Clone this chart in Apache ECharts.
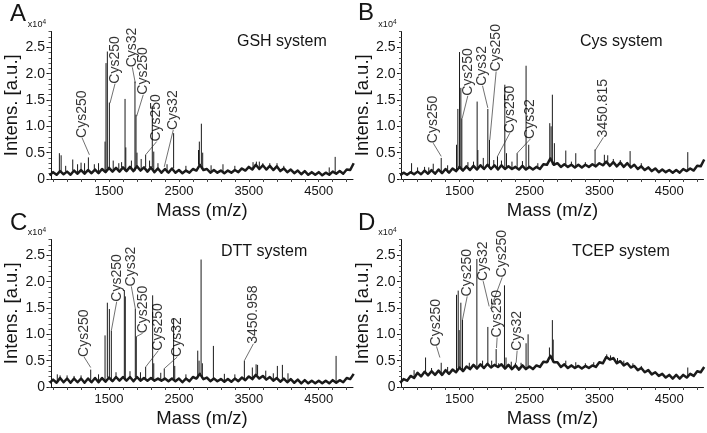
<!DOCTYPE html>
<html><head><meta charset="utf-8">
<script src="https://cdn.jsdelivr.net/npm/echarts@6/dist/echarts.min.js"></script>
<style>html,body{margin:0;padding:0;background:#fff}#c{width:707px;height:433px}</style>
</head><body><div id="c"></div>
<script>
// ---------- data (intensities in units of 1e4) ----------
const baseMasses = [650,700,750,800,850,900,950,1000,1050,1100,1150,1200,1250,1300,1350,1400,1450,1500,1550,1600,1650,1700,1750,1800,1850,1900,1950,2000,2050,2100,2150,2200,2250,2300,2350,2400,2450,2500,2550,2600,2650,2700,2750,2800,2850,2900,2950,3000,3050,3100,3150,3200,3250,3300,3350,3400,3450,3500,3550,3600,3650,3700,3750,3800,3850,3900,3950,4000,4050,4100,4150,4200,4250,4300,4350,4400,4450,4500,4550,4600,4650,4700,4750,4800,4850,4900,4950,5000];

const baseA = [0.07,0.13,0.08,0.15,0.09,0.14,0.08,0.16,0.10,0.17,0.10,0.17,0.11,0.18,0.11,0.19,0.13,0.21,0.14,0.21,0.14,0.22,0.15,0.23,0.15,0.24,0.16,0.22,0.14,0.22,0.13,0.20,0.12,0.19,0.12,0.20,0.12,0.17,0.11,0.16,0.12,0.19,0.16,0.27,0.17,0.19,0.12,0.17,0.12,0.16,0.11,0.16,0.12,0.17,0.13,0.20,0.16,0.23,0.18,0.27,0.19,0.26,0.18,0.25,0.17,0.24,0.15,0.20,0.13,0.18,0.11,0.16,0.09,0.15,0.08,0.13,0.08,0.13,0.07,0.12,0.08,0.14,0.10,0.15,0.10,0.18,0.17,0.30];
const baseB = [0.07,0.12,0.08,0.13,0.09,0.14,0.09,0.16,0.10,0.17,0.10,0.18,0.11,0.19,0.12,0.20,0.15,0.23,0.16,0.24,0.17,0.25,0.18,0.26,0.19,0.27,0.19,0.26,0.18,0.26,0.19,0.24,0.19,0.23,0.18,0.25,0.18,0.23,0.18,0.23,0.19,0.28,0.27,0.39,0.27,0.30,0.23,0.28,0.23,0.27,0.22,0.27,0.22,0.27,0.23,0.28,0.24,0.30,0.26,0.33,0.25,0.32,0.24,0.31,0.23,0.30,0.22,0.27,0.19,0.24,0.17,0.22,0.15,0.20,0.13,0.18,0.13,0.17,0.12,0.17,0.12,0.19,0.15,0.20,0.16,0.25,0.24,0.37];
const baseC = [0.08,0.14,0.08,0.17,0.09,0.16,0.08,0.16,0.09,0.16,0.08,0.16,0.09,0.17,0.09,0.17,0.10,0.18,0.11,0.19,0.12,0.19,0.12,0.19,0.11,0.19,0.12,0.17,0.12,0.17,0.12,0.16,0.12,0.16,0.11,0.16,0.11,0.16,0.09,0.16,0.11,0.19,0.16,0.25,0.15,0.18,0.11,0.16,0.11,0.15,0.10,0.15,0.10,0.16,0.11,0.18,0.13,0.20,0.15,0.23,0.16,0.21,0.14,0.19,0.12,0.17,0.10,0.16,0.09,0.15,0.08,0.14,0.07,0.13,0.07,0.12,0.07,0.12,0.07,0.12,0.07,0.13,0.08,0.13,0.09,0.17,0.15,0.25];
const baseD = [0.08,0.15,0.12,0.21,0.17,0.27,0.20,0.29,0.22,0.30,0.23,0.31,0.23,0.32,0.25,0.33,0.28,0.37,0.30,0.39,0.34,0.42,0.35,0.43,0.36,0.44,0.37,0.42,0.38,0.43,0.35,0.42,0.34,0.41,0.33,0.41,0.34,0.39,0.34,0.41,0.38,0.48,0.47,0.59,0.47,0.47,0.38,0.43,0.36,0.41,0.36,0.40,0.35,0.40,0.36,0.41,0.38,0.47,0.45,0.57,0.52,0.55,0.45,0.49,0.41,0.45,0.37,0.40,0.32,0.36,0.28,0.32,0.24,0.28,0.21,0.25,0.18,0.23,0.16,0.23,0.16,0.23,0.18,0.25,0.21,0.30,0.28,0.38];

const peaksA = [[790,0.49],[815,0.45],[880,0.25],[981,0.37],[1050,0.28],[1100,0.31],[1150,0.30],[1205,0.41],[1290,0.28],[1350,0.30],[1443,0.71],[1457,2.20],[1476,2.42],[1505,1.45],[1560,0.35],[1640,0.30],[1680,0.32],[1729,1.52],[1740,0.60],[1820,0.35],[1871,1.85],[1886,1.22],[1900,0.50],[1960,0.38],[2024,0.46],[2080,0.35],[2119,1.39],[2140,0.52],[2200,0.30],[2330,0.28],[2424,0.87],[2600,0.25],[2780,0.55],[2792,0.71],[2821,1.05],[2840,0.50],[2960,0.26],[3130,0.28],[3300,0.25],[3560,0.32],[3608,0.33],[3650,0.33],[3700,0.30],[3800,0.30],[3903,0.30],[4000,0.25],[4650,0.22],[4735,0.42]];
const peaksB = [[814,0.30],[900,0.22],[1000,0.23],[1060,0.22],[1124,0.29],[1238,0.40],[1330,0.26],[1457,0.65],[1476,1.33],[1500,2.41],[1519,1.73],[1533,1.15],[1620,0.32],[1700,0.33],[1752,1.47],[1762,0.55],[1840,0.40],[1905,1.33],[1929,0.74],[1990,0.36],[2043,0.43],[2100,0.35],[2148,1.79],[2172,0.49],[2250,0.33],[2324,0.49],[2400,0.34],[2452,2.15],[2490,0.65],[2620,0.30],[2791,1.06],[2810,1.00],[2828,1.60],[2857,0.68],[3020,0.54],[3100,0.33],[3163,0.49],[3300,0.32],[3439,0.56],[3572,0.46],[3620,0.45],[3700,0.38],[3800,0.36],[3940,0.53],[4100,0.30],[4765,0.51]];
const peaksC = [[760,0.24],[800,0.22],[900,0.22],[1000,0.21],[1100,0.22],[1238,0.33],[1350,0.24],[1443,0.98],[1476,1.60],[1505,1.48],[1533,1.07],[1600,0.28],[1719,1.84],[1733,1.72],[1800,0.30],[1876,1.49],[1890,0.96],[1950,0.28],[2024,0.38],[2124,1.74],[2140,0.45],[2240,0.27],[2290,0.35],[2424,1.30],[2440,0.40],[2600,0.24],[2769,0.69],[2788,0.50],[2817,2.42],[2835,0.45],[2993,0.78],[3150,0.25],[3300,0.24],[3436,0.50],[3550,0.37],[3604,0.43],[3625,0.42],[3742,0.31],[3850,0.26],[3908,0.40],[3980,0.42],[4060,0.26],[4748,0.59]];
const peaksD = [[850,0.32],[1014,0.56],[1100,0.36],[1238,0.46],[1330,0.38],[1457,1.75],[1481,1.83],[1495,1.08],[1519,1.60],[1543,1.28],[1640,0.46],[1748,2.43],[1830,0.50],[1905,1.14],[1960,0.50],[2024,0.72],[2060,0.45],[2143,1.93],[2165,0.56],[2240,0.48],[2300,0.46],[2380,0.46],[2452,0.83],[2481,1.00],[2771,0.56],[2786,0.75],[2828,1.27],[2840,0.90],[3020,0.50],[3163,0.47],[3300,0.45],[3420,0.47],[3606,0.62],[3660,0.60],[3760,0.55],[3850,0.50],[3980,0.45],[4100,0.40],[4765,0.37]];

// annotations: [text, peak mass, peak intensity, label mass, label intensity]
const notesA = [['Cys250',1219,0.46,1115,0.78],['Cys250',1514,1.44,1586,1.81],['Cys32',1876,1.82,1833,2.12],['Cys250',1895,1.19,1990,1.60],['Cys250',2024,0.46,2181,0.71],['Cys32',2290,0.23,2419,0.93]];
const notesB = [['Cys250',1238,0.43,1124,0.68],['Cys250',1538,1.15,1619,1.58],['Cys32',1905,1.35,1829,1.77],['Cys250',1933,0.74,2024,2.04],['Cys250',2043,0.43,2219,0.87],['Cys32',2324,0.49,2514,0.76],['3450.815',3439,0.54,3558,0.79]];
const notesC = [['Cys250',1238,0.37,1143,0.57],['Cys250',1533,1.07,1610,1.62],['Cys32',1876,1.49,1819,1.91],['Cys250',1895,0.96,1981,1.02],['Cys250',2024,0.38,2205,0.69],['Cys32',2290,0.35,2476,0.57],['3450.958',3436,0.50,3565,0.82]];
const notesD = [['Cys250',1219,0.56,1171,0.77],['Cys250',1543,1.28,1610,1.72],['Cys32',1924,1.53,1838,2.01],['Cys250',1943,1.48,2110,2.08],['Cys250',2029,0.74,2038,0.94],['Cys32',2310,0.46,2324,0.69]];

const panelLetters = ['A','B','C','D'];
const panelTitles = ['GSH system','Cys system','DTT system','TCEP system'];
const xTickLabels = [1500,2500,3500,4500];
const xTicks = [700,900,1100,1300,1500,1700,1900,2100,2300,2500,2700,2900,3100,3300,3500,3700,3900,4100,4300,4500,4700,4900];
const yTickLabels = [0,0.5,1,1.5,2,2.5];
const yMinorTicks = [0,0.1,0.2,0.3,0.4,0.5,0.6,0.7,0.8,0.9,1,1.1,1.2,1.3,1.4,1.5,1.6,1.7,1.8,1.9,2,2.1,2.2,2.3,2.4,2.5,2.6,2.7,2.8];
const xName = 'Mass (m/z)';
const yName = 'Intens. [a.u.]';

// ---------- layout ----------
const FONT = 'Liberation Sans, Arial, sans-serif';
const INK = '#141414';
const grids = [
  {left:51, top:31.5, width:302, height:147.5},
  {left:401.5, top:31.5, width:302, height:147.5},
  {left:51, top:239.5, width:302, height:147.5},
  {left:401.5, top:239.5, width:302, height:147.5}
];
const letterPos = [[10,14],[358,13.5],[10,223],[358,223.5]];
const titlePos = [[237,43],[580,42.5],[221,253],[572,252.5]];

const panels = [
  {base:baseA, peaks:peaksA, notes:notesA},
  {base:baseB, peaks:peaksB, notes:notesB},
  {base:baseC, peaks:peaksC, notes:notesC},
  {base:baseD, peaks:peaksD, notes:notesD}
];

function nearestBase(base, m){
  let bi = 0, bd = Infinity;
  for (let j=0;j<baseMasses.length;j++){const d=Math.abs(baseMasses[j]-m); if(d<bd){bd=d;bi=j;}}
  return base[bi];
}

const xAxis = [], yAxis = [], series = [], graphic = [];
panels.forEach((p,i)=>{
  xAxis.push({
    type:'value', gridIndex:i, min:670, max:4990,
    name: xName, nameLocation:'middle', nameGap:22,
    nameTextStyle:{fontFamily:FONT, fontSize:18.5, color:INK},
    axisLine:{show:true, onZero:false, lineStyle:{color:INK, width:1}},
    axisTick:{show:true, inside:false, length:3, customValues:xTicks, lineStyle:{color:'#444'}},
    axisLabel:{show:true, customValues:xTickLabels, margin:6, fontFamily:FONT, fontSize:13, color:INK,
      formatter:v=>String(v)},
    splitLine:{show:false}
  });
  yAxis.push({
    type:'value', gridIndex:i, min:0, max:2.8, position:'left',
    name: yName, nameLocation:'middle', nameGap:27,
    nameTextStyle:{fontFamily:FONT, fontSize:18.5, color:INK},
    axisLine:{show:true, onZero:false, lineStyle:{color:INK, width:1}},
    axisTick:{show:true, inside:false, length:4.5, customValues:yTickLabels, lineStyle:{color:INK}},
    axisLabel:{show:true, customValues:yTickLabels, margin:6, fontFamily:FONT, fontSize:14, color:INK,
      formatter:v=> v===0 ? '0' : v.toFixed(1)},
    splitLine:{show:false}
  });
  yAxis.push({
    type:'value', gridIndex:i, min:0, max:2.8, position:'left',
    name:'{a|x10}{b|4}', nameLocation:'end', nameGap:1,
    nameTextStyle:{align:'right', padding:[0,5,0,0], rich:{a:{fontFamily:FONT,fontSize:9,color:INK},b:{fontFamily:FONT,fontSize:6.5,color:INK,verticalAlign:'top',padding:[0,0,5,0]}}},
    axisLine:{show:false},
    axisTick:{show:true, inside:false, length:2.5, customValues:yMinorTicks, lineStyle:{color:'#555'}},
    axisLabel:{show:false},
    splitLine:{show:false}
  });

  series.push({
    type:'line', xAxisIndex:i, yAxisIndex:2*i,
    data: baseMasses.map((m,j)=>[m, p.base[j]]),
    showSymbol:false, symbol:'none', silent:true, z:3,
    lineStyle:{color:'#1b1b1b', width:2.5, join:'round'}
  });
  const pk = [];
  p.peaks.forEach(q=>{
    const b = nearestBase(p.base, q[0]);
    pk.push([q[0], b]); pk.push([q[0], q[1]]); pk.push([q[0], null]);
  });
  series.push({
    type:'line', xAxisIndex:i, yAxisIndex:2*i, data:pk, connectNulls:false,
    showSymbol:false, symbol:'none', silent:true, z:4,
    lineStyle:{color:'#1a1a1a', width:1}
  });
  series.push({
    type:'scatter', xAxisIndex:i, yAxisIndex:2*i, symbolSize:1, z:5, silent:true,
    itemStyle:{color:'rgba(0,0,0,0)'},
    data: p.notes.map(n=>({value:[n[3], n[4]], name:n[0]})),
    label:{show:true, position:'inside', formatter:'{b}', rotate:90, align:'left', verticalAlign:'middle',
      fontFamily:FONT, fontSize:14, color:'#000', distance:0},
    markLine:{silent:true, symbol:['none','none'], animation:false, label:{show:false},
      lineStyle:{color:'#333', width:0.7, type:'solid'},
      data: p.notes.map(n=>[{coord:[n[1],n[2]]},{coord:[n[3],n[4]]}])}
  });

  graphic.push({type:'text', left:letterPos[i][0], top:letterPos[i][1]-12, style:{text:panelLetters[i], font:'24px '+FONT, fill:INK}});
  graphic.push({type:'text', left:titlePos[i][0], top:titlePos[i][1]-9, style:{text:panelTitles[i], font:'16px '+FONT, fill:INK}});
});

const chart = echarts.init(document.getElementById('c'), null, {renderer:'canvas'});
chart.setOption({
  animation:false,
  backgroundColor:'#fff',
  grid: grids,
  xAxis, yAxis, series, graphic
});
</script>
</body></html>
